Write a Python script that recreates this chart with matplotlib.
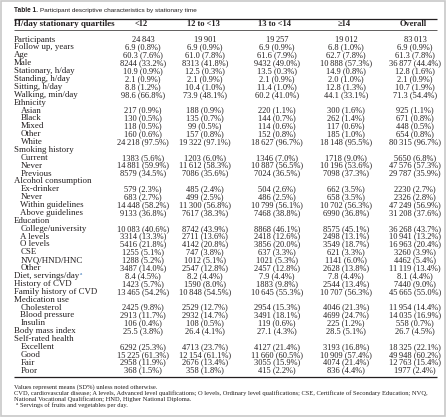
import matplotlib

matplotlib.use("Agg")

import matplotlib.pyplot as plt
from matplotlib.patches import Rectangle

W, H = 448, 419

TITLE_BOLD = "Table 1."
TITLE_REST = "Participant descriptive characteristics by stationary time"

COL_HEADERS = ["H/day stationary quartiles", "<12", "12 to <13", "13 to <14", "\u226514", "Overall"]

ROW_LABELS = [
    "Participants", "Follow up, years", "Age", "Male", "Stationary, h/day",
    "Standing, h/day", "Sitting, h/day", "Walking, min/day",
    "Ethnicity", "Asian", "Black", "Mixed", "Other", "White",
    "Smoking history", "Current", "Never", "Previous",
    "Alcohol consumption", "Ex-drinker", "Never", "Within guidelines", "Above guidelines",
    "Education", "College/university", "A levels", "O levels", "CSE", "NVQ/HND/HNC", "Other",
    "Diet, servings/day", "History of CVD", "Family history of CVD",
    "Medication use", "Cholesterol", "Blood pressure", "Insulin",
    "Body mass index",
    "Self-rated health", "Excellent", "Good", "Fair", "Poor",
]

# 1 = indented sub-row
INDENT = [0] * 8 + [0, 1, 1, 1, 1, 1] + [0, 1, 1, 1] + [0, 1, 1, 1, 1] \
    + [0, 1, 1, 1, 1, 1, 1] + [0, 0, 0] + [0, 1, 1, 1] + [0] + [0, 1, 1, 1, 1]

LT12 = [
    "24\u2009843", "6.9 (0.8%)", "60.3 (7.6%)", "8244 (33.2%)", "10.9 (0.9%)",
    "2.1 (0.9%)", "8.8 (1.2%)", "98.6 (66.8%)",
    "", "217 (0.9%)", "130 (0.5%)", "118 (0.5%)", "160 (0.6%)", "24\u2009218 (97.5%)",
    "", "1383 (5.6%)", "14\u2009881 (59.9%)", "8579 (34.5%)",
    "", "579 (2.3%)", "683 (2.7%)", "14\u2009448 (58.2%)", "9133 (36.8%)",
    "", "10\u2009083 (40.6%)", "3314 (13.3%)", "5416 (21.8%)", "1255 (5.1%)", "1288 (5.2%)", "3487 (14.0%)",
    "8.4 (4.5%)", "1423 (5.7%)", "13\u2009465 (54.2%)",
    "", "2425 (9.8%)", "2913 (11.7%)", "106 (0.4%)",
    "25.5 (3.8%)",
    "", "6292 (25.3%)", "15\u2009225 (61.3%)", "2958 (11.9%)", "368 (1.5%)",
]
Q12_13 = [
    "19\u2009901", "6.9 (0.9%)", "61.0 (7.8%)", "8313 (41.8%)", "12.5 (0.3%)",
    "2.1 (0.9%)", "10.4 (1.0%)", "73.9 (48.1%)",
    "", "188 (0.9%)", "135 (0.7%)", "99 (0.5%)", "157 (0.8%)", "19\u2009322 (97.1%)",
    "", "1203 (6.0%)", "11\u2009612 (58.3%)", "7086 (35.6%)",
    "", "485 (2.4%)", "499 (2.5%)", "11\u2009300 (56.8%)", "7617 (38.3%)",
    "", "8742 (43.9%)", "2711 (13.6%)", "4142 (20.8%)", "747 (3.8%)", "1012 (5.1%)", "2547 (12.8%)",
    "8.2 (4.4%)", "1590 (8.0%)", "10\u2009848 (54.5%)",
    "", "2529 (12.7%)", "2932 (14.7%)", "108 (0.5%)",
    "26.4 (4.1%)",
    "", "4713 (23.7%)", "12\u2009154 (61.1%)", "2676 (13.4%)", "358 (1.8%)",
]
Q13_14 = [
    "19\u2009257", "6.9 (0.9%)", "61.6 (7.9%)", "9432 (49.0%)", "13.5 (0.3%)",
    "2.1 (0.9%)", "11.4 (1.0%)", "60.2 (41.0%)",
    "", "220 (1.1%)", "144 (0.7%)", "114 (0.6%)", "152 (0.8%)", "18\u2009627 (96.7%)",
    "", "1346 (7.0%)", "10\u2009887 (56.5%)", "7024 (36.5%)",
    "", "504 (2.6%)", "486 (2.5%)", "10\u2009799 (56.1%)", "7468 (38.8%)",
    "", "8868 (46.1%)", "2418 (12.6%)", "3856 (20.0%)", "637 (3.3%)", "1021 (5.3%)", "2457 (12.8%)",
    "7.9 (4.4%)", "1883 (9.8%)", "10\u2009645 (55.3%)",
    "", "2954 (15.3%)", "3491 (18.1%)", "119 (0.6%)",
    "27.1 (4.3%)",
    "", "4127 (21.4%)", "11\u2009660 (60.5%)", "3055 (15.9%)", "415 (2.2%)",
]
GE14 = [
    "19\u2009012", "6.8 (1.0%)", "62.7 (7.8%)", "10\u2009888 (57.3%)", "14.9 (0.8%)",
    "2.0 (1.0%)", "12.8 (1.3%)", "44.1 (33.1%)",
    "", "300 (1.6%)", "262 (1.4%)", "117 (0.6%)", "185 (1.0%)", "18\u2009148 (95.5%)",
    "", "1718 (9.0%)", "10\u2009196 (53.6%)", "7098 (37.3%)",
    "", "662 (3.5%)", "658 (3.5%)", "10\u2009702 (56.3%)", "6990 (36.8%)",
    "", "8575 (45.1%)", "2498 (13.1%)", "3549 (18.7%)", "621 (3.3%)", "1141 (6.0%)", "2628 (13.8%)",
    "7.8 (4.4%)", "2544 (13.4%)", "10\u2009707 (56.3%)",
    "", "4046 (21.3%)", "4699 (24.7%)", "225 (1.2%)",
    "28.5 (5.1%)",
    "", "3193 (16.8%)", "10\u2009909 (57.4%)", "4074 (21.4%)", "836 (4.4%)",
]
OVERALL = [
    "83\u2009013", "6.9 (0.9%)", "61.3 (7.8%)", "36\u2009877 (44.4%)", "12.8 (1.6%)",
    "2.1 (0.9%)", "10.7 (1.9%)", "71.3 (54.4%)",
    "", "925 (1.1%)", "671 (0.8%)", "448 (0.5%)", "654 (0.8%)", "80\u2009315 (96.7%)",
    "", "5650 (6.8%)", "47\u2009576 (57.3%)", "29\u2009787 (35.9%)",
    "", "2230 (2.7%)", "2326 (2.8%)", "47\u2009249 (56.9%)", "31\u2009208 (37.6%)",
    "", "36\u2009268 (43.7%)", "10\u2009941 (13.2%)", "16\u2009963 (20.4%)", "3260 (3.9%)", "4462 (5.4%)", "11\u2009119 (13.4%)",
    "8.1 (4.4%)", "7440 (9.0%)", "45\u2009665 (55.0%)",
    "", "11\u2009954 (14.4%)", "14\u2009035 (16.9%)", "558 (0.7%)",
    "26.7 (4.5%)",
    "", "18\u2009325 (22.1%)", "49\u2009948 (60.2%)", "12\u2009763 (15.4%)", "1977 (2.4%)",
]
COLUMNS = [LT12, Q12_13, Q13_14, GE14, OVERALL]

FOOTNOTES = [
    "Values represent means (SD%) unless noted otherwise.",
    "CVD, cardiovascular disease; A levels, Advanced level qualifications; O levels, "
    "Ordinary level qualifications; CSE, Certificate of Secondary Education; NVQ,",
    "National Vocational Qualification; HND, Higher National Diploma.",
]
FOOTNOTE_A = "Servings of fruits and vegetables per day."

SERIF = ["Liberation Serif", "DejaVu Serif"]
SANS = ["Liberation Sans", "DejaVu Sans"]
FS = 6.0
FS_LABEL = 6.4
TXT = "#231f20"


def main():
    fig = plt.figure(figsize=(W / 100, H / 100), dpi=100)
    ax = fig.add_axes([0, 0, 1, 1])
    ax.set_xlim(0, W)
    ax.set_ylim(H, 0)
    ax.axis("off")

    ax.add_patch(Rectangle((1, 1), W - 4, H - 4, fill=False, edgecolor="#c8c8c8", lw=1.2))

    renderer = fig.canvas.get_renderer()
    inv = ax.transData.inverted()
    t = ax.text(14, 10.5, TITLE_BOLD, family=SANS, weight="bold", fontsize=4.7,
                color=TXT, va="center", ha="left")
    bb = t.get_window_extent(renderer)
    x_rest = inv.transform((bb.x1, 0))[0] + 1.8
    ax.text(x_rest, 10.5, TITLE_REST, family=SANS, fontsize=4.6, color=TXT,
            va="center", ha="left")

    left, right = 14, 437
    ax.plot([left, right], [19, 19], color=TXT, lw=0.9, solid_capstyle="butt")
    ax.plot([left, right], [30, 30], color=TXT, lw=0.5, solid_capstyle="butt")
    ax.plot([left, right], [377, 377], color=TXT, lw=0.9, solid_capstyle="butt")

    centers = [143, 205, 277, 346, 415]
    ax.text(left, 24.5, COL_HEADERS[0], family=SERIF, weight="bold", fontsize=6.5,
            color=TXT, va="center", ha="left")
    for cx, head in zip(centers, COL_HEADERS[1:]):
        ax.text(cx - 2, 24.5, head, family=SERIF, weight="bold", fontsize=FS,
                color=TXT, va="center", ha="center")

    y0, dy = 39.6, 7.88
    for i, label in enumerate(ROW_LABELS):
        y = y0 + i * dy
        x = left + 6.5 * INDENT[i]
        t = ax.text(x, y, label, family=SERIF, fontsize=FS_LABEL, color=TXT,
                    va="center", ha="left")
        if label.startswith("Diet"):
            bb = t.get_window_extent(renderer)
            xs = inv.transform((bb.x1, 0))[0] + 0.5
            ax.text(xs, y - 2, "a", family=SERIF, fontsize=3.8, color="#2e6fb6",
                    va="center", ha="left")
        for cx, col in zip(centers, COLUMNS):
            if col[i]:
                ax.text(cx, y, col[i], family=SERIF, fontsize=FS, color=TXT,
                        va="center", ha="center")

    fy = [387, 393.5, 399]
    for y, note in zip(fy, FOOTNOTES):
        ax.text(left, y, note, family=SERIF, fontsize=4.72, color=TXT,
                va="center", ha="left")
    ax.text(left + 2, 403.8, "a", family=SERIF, fontsize=3.5, color=TXT,
            va="center", ha="left")
    ax.text(left + 6.5, 405, FOOTNOTE_A, family=SERIF, fontsize=4.72, color=TXT,
            va="center", ha="left")

    fig.savefig("out.png", dpi=100, facecolor="white")


if __name__ == "__main__":
    main()
